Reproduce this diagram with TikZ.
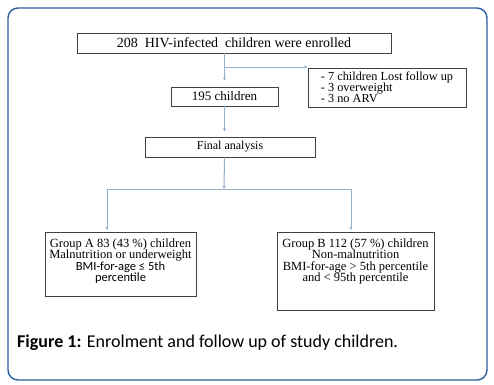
\documentclass[tikz,border=0pt]{standalone}
\usepackage{fontspec}
\setmainfont{Liberation Serif}
\newfontfamily\calibri{Carlito}
\usetikzlibrary{arrows.meta}
\definecolor{frameblue}{HTML}{2A5F9E}
\definecolor{flowblue}{HTML}{93AECF}
\definecolor{boxgray}{HTML}{404040}
\newcommand{\tightlines}{\lineskiplimit=-5pt\relax}
\newcommand{\boxfont}{\fontsize{12.5}{11.3}\selectfont\tightlines}
\newcommand{\listfont}{\fontsize{12.3}{11}\selectfont\tightlines}
\tikzset{
  flowbox/.style={draw=boxgray, line width=0.8pt, inner xsep=4pt, inner ysep=0pt},
  flow/.style={draw=flowblue, line width=1pt, -{Latex[length=3pt,width=3.5pt]}},
}

\begin{document}
\begin{tikzpicture}[x=1pt,y=-1pt]
\useasboundingbox (0,0) rectangle (494,384);
% frame
\draw[frameblue, line width=1.4pt, rounded corners=10pt] (8,8) rectangle (487,380);

% boxes
\node[flowbox, minimum width=314pt, minimum height=20pt, font=\fontsize{14}{16}\selectfont] (enrolled) at (234,43) {208~ HIV-infected~ children were enrolled};
\node[flowbox, minimum width=107pt, minimum height=19pt, font=\fontsize{13}{15}\selectfont] (count) at (224.5,96.5) {195 children};
\node[flowbox, minimum width=158pt, minimum height=39pt, align=left, font=\listfont] (excluded) at (387,87.5) {- 7 children Lost follow up\\- 3 overweight\\- 3 no ARV};
\node[flowbox, minimum width=170pt, minimum height=20pt, font=\fontsize{12}{14}\selectfont] (final) at (230,147) {Final analysis};
\node[flowbox, anchor=north, minimum width=151pt, align=center, inner ysep=7pt, text height=42pt, text depth=8pt, font=\boxfont] (groupA) at (120.5,232) {Group A 83 (43 \%) children\\Malnutrition or underweight\\{\calibri BMI-for-age ≤ 5th}\\{\calibri percentile}};
\node[flowbox, anchor=north, minimum width=157pt, align=center, inner ysep=7pt, text height=42pt, text depth=22pt, font=\boxfont] (groupB) at (355.5,232) {Group B 112 (57 \%) children\\Non-malnutrition\\BMI-for-age > 5th percentile\\and < 95th percentile};

% arrows
\coordinate (branch) at (224,67);
\coordinate (split) at (224,189);
\coordinate (splitA) at (107,189);
\coordinate (splitB) at (351,189);
\draw[flow, shorten >=6pt] (enrolled.south -| count) -- (count);
\draw[flow] (branch) -- (branch -| excluded.west);
\draw[flow, shorten >=5pt] (count) -- (count |- final.north);
\draw[flow] (final.south -| count) -- (split);
\draw[flow, -] (splitA) -- (splitB);
\draw[flow, shorten >=2pt] (splitA) -- (splitA |- groupA.north);
\draw[flow, shorten >=2pt] (splitB) -- (splitB |- groupB.north);

% caption
\node[anchor=base west, inner sep=0pt, font=\calibri\fontsize{18}{20}\selectfont] (caption) at (17,347) {\textbf{Figure 1:} Enrolment and follow up of study children.};
\end{tikzpicture}
\end{document}
